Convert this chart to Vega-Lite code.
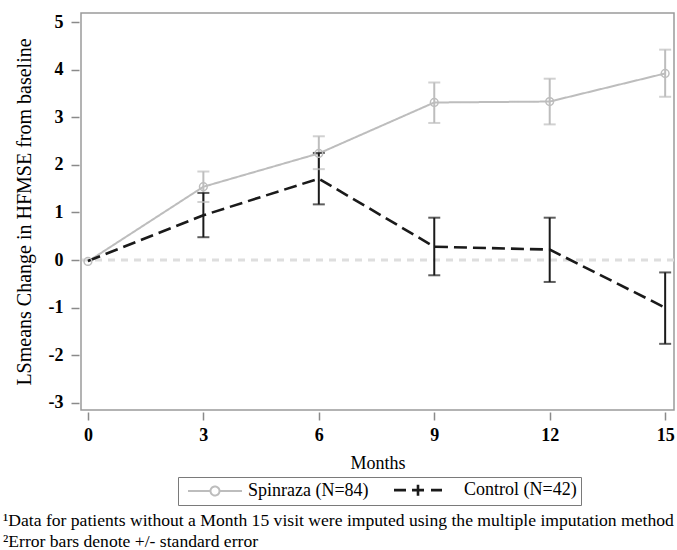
{
  "$schema": "https://vega.github.io/schema/vega-lite/v6.json",
  "autosize": {"type": "none"},
  "width": 593,
  "height": 397,
  "padding": {"left": 81, "top": 13, "right": 3, "bottom": 140},
  "config": {
    "font": "Liberation Serif",
    "view": {"stroke": "#9a9a9a", "strokeWidth": 1.5},
    "axis": {
      "grid": false, "domain": false, "tickColor": "#8a8a8a", "tickSize": 8, "tickWidth": 1.5,
      "labelFont": "Liberation Serif", "labelFontSize": 18, "labelFontWeight": "bold", "labelColor": "#000",
      "titleFont": "Liberation Serif", "titleFontWeight": "normal", "titleColor": "#000",
      "labelExpr": "datum.value < 0 ? '-' + abs(datum.value) : '' + datum.value"
    }
  },
  "title": {
    "text": ["¹Data for patients without a Month 15 visit were imputed using the multiple imputation method", "²Error bars denote +/- standard error"],
    "orient": "bottom", "anchor": "start", "frame": "bounds",
    "font": "Liberation Serif", "fontSize": 17.6, "fontWeight": "normal", "color": "#000",
    "lineHeight": 21, "offset": 6, "dx": -11
  },
  "data": {
    "values": [
      {"month": 0, "series": "Spinraza (N=84)", "mean": -0.03},
      {"month": 3, "series": "Spinraza (N=84)", "mean": 1.54, "lo": 1.22, "hi": 1.86},
      {"month": 6, "series": "Spinraza (N=84)", "mean": 2.24, "lo": 1.91, "hi": 2.6},
      {"month": 9, "series": "Spinraza (N=84)", "mean": 3.31, "lo": 2.88, "hi": 3.73},
      {"month": 12, "series": "Spinraza (N=84)", "mean": 3.33, "lo": 2.85, "hi": 3.81},
      {"month": 15, "series": "Spinraza (N=84)", "mean": 3.92, "lo": 3.43, "hi": 4.42},
      {"month": 0, "series": "Control (N=42)", "mean": -0.02},
      {"month": 3, "series": "Control (N=42)", "mean": 0.94, "lo": 0.48, "hi": 1.41},
      {"month": 6, "series": "Control (N=42)", "mean": 1.71, "lo": 1.17, "hi": 2.25},
      {"month": 9, "series": "Control (N=42)", "mean": 0.28, "lo": -0.32, "hi": 0.89},
      {"month": 12, "series": "Control (N=42)", "mean": 0.22, "lo": -0.46, "hi": 0.89},
      {"month": 15, "series": "Control (N=42)", "mean": -1.0, "lo": -1.76, "hi": -0.26}
    ]
  },
  "encoding": {
    "x": {
      "field": "month", "type": "quantitative",
      "scale": {"domain": [-0.18, 15.23], "nice": false, "zero": false},
      "axis": {"values": [0, 3, 6, 9, 12, 15], "offset": 2, "labelPadding": 6, "labelFont": "Liberation Serif", "title": "Months", "titleFontSize": 18, "titlePadding": 10}
    }
  },
  "layer": [
    {
      "data": {"values": [{"z": 0}]},
      "mark": {"type": "rule", "color": "#dedede", "strokeWidth": 3, "strokeDash": [7, 6]},
      "encoding": {
        "x": null,
        "y": {"field": "z", "type": "quantitative"}
      }
    },
    {
      "mark": {"type": "line"},
      "encoding": {
        "y": {
          "field": "mean", "type": "quantitative",
          "scale": {"domain": [-3.15, 5.19], "nice": false, "zero": false},
          "axis": {"values": [-3, -2, -1, 0, 1, 2, 3, 4, 5], "offset": 2, "labelPadding": 8, "labelFont": "Liberation Serif", "title": "LSmeans Change in HFMSE from baseline", "titleFontSize": 20, "titlePadding": 14}
        },
        "color": {
          "field": "series", "type": "nominal",
          "scale": {"domain": ["Spinraza (N=84)", "Control (N=42)"], "range": ["#bdbdbd", "#1a1a1a"]},
          "legend": {
            "title": null, "orient": "none", "legendX": 97, "legendY": 464, "direction": "horizontal",
            "strokeColor": "#7a7a7a", "padding": 4,
            "labelFont": "Liberation Serif", "labelFontSize": 18, "labelColor": "#000",
            "symbolSize": 100, "symbolStrokeWidth": 1.6, "columnPadding": 19,
            "encode": {
              "symbols": {"update": {
                "shape": [
                  {"test": "datum.value === 'Control (N=42)'", "value": "M-4.8,0H-2.4M-1.2,0H1.2M0,-1.1V1.1M2.6,0H4.8"},
                  {"value": "M-5.4,0H-0.9M0.9,0H5.4M-0.9,0A0.9,0.9 0 1,0 0.9,0A0.9,0.9 0 1,0 -0.9,0"}
                ],
                "x": [
                  {"test": "datum.value === 'Control (N=42)'", "value": 20},
                  {"value": 33}
                ],
                "strokeWidth": [
                  {"test": "datum.value === 'Control (N=42)'", "value": 2.8},
                  {"value": 1.6}
                ],
                "strokeDash": {"value": [1, 0]},
                "fill": {"value": "transparent"},
                "fillOpacity": {"value": 0}
              }},
              "labels": {"update": {"x": {"value": 66}}}
            }
          }
        },
        "strokeDash": {
          "field": "series", "type": "nominal",
          "scale": {"domain": ["Spinraza (N=84)", "Control (N=42)"], "range": [[1, 0], [13, 6]]},
          "legend": null
        },
        "strokeWidth": {
          "field": "series", "type": "nominal",
          "scale": {"domain": ["Spinraza (N=84)", "Control (N=42)"], "range": [2, 2.6]},
          "legend": null
        }
      }
    },
    {
      "mark": {"type": "rule", "strokeWidth": 2},
      "encoding": {
        "y": {"field": "lo", "type": "quantitative"},
        "y2": {"field": "hi"},
        "color": {"field": "series", "type": "nominal", "legend": null}
      }
    },
    {
      "mark": {"type": "tick", "orient": "horizontal", "size": 12, "thickness": 2},
      "encoding": {
        "y": {"field": "lo", "type": "quantitative"},
        "color": {"field": "series", "type": "nominal", "legend": null}
      }
    },
    {
      "mark": {"type": "tick", "orient": "horizontal", "size": 12, "thickness": 2},
      "encoding": {
        "y": {"field": "hi", "type": "quantitative"},
        "color": {"field": "series", "type": "nominal", "legend": null}
      }
    },
    {
      "transform": [{"filter": "datum.series === 'Spinraza (N=84)'"}],
      "mark": {"type": "point", "filled": false, "size": 60, "strokeWidth": 1.5, "opacity": 1},
      "encoding": {
        "y": {"field": "mean", "type": "quantitative"},
        "color": {"field": "series", "type": "nominal", "legend": null}
      }
    }
  ]
}
